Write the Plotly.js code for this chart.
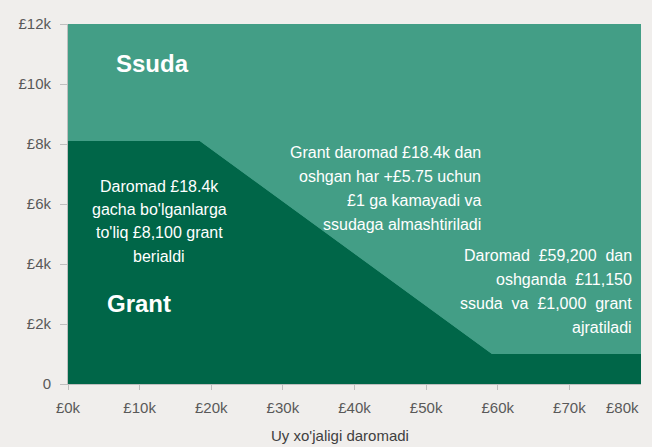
<!DOCTYPE html>
<html>
<head>
<meta charset="utf-8">
<script src="https://cdn.plot.ly/plotly-3.0.1.min.js"></script>
<style>html,body{margin:0;padding:0;background:#F0EEEC;}#chart{width:652px;height:447px;}</style>
</head>
<body>
<div id="chart"></div>
<script>
// Data
const income = [0, 18400, 59200, 82000];
const grant = [8100, 8100, 1000, 1000];
const loan = [4050, 4050, 11150, 11150];
const xTickVals = [0, 10000, 20000, 30000, 40000, 50000, 60000, 70000, 80000];
const xTickText = ['£0k', '£10k', '£20k', '£30k', '£40k', '£50k', '£60k', '£70k', '£80k'];
const yTickVals = [0, 2000, 4000, 6000, 8000, 10000, 12000];
const yTickText = ['0', '£2k', '£4k', '£6k', '£8k', '£10k', '£12k'];
const xTitle = "Uy xo'jaligi daromadi";
const labelLoan = 'Ssuda';
const labelGrant = 'Grant';
const note1 = ['Daromad £18.4k', "gacha bo'lganlarga", "to'liq £8,100 grant", 'berialdi'];
const note2 = ['Grant daromad £18.4k dan', 'oshgan har +£5.75 uchun', '£1 ga kamayadi va', 'ssudaga almashtiriladi'];
const note3 = ['Daromad\u00a0\u00a0£59,200\u00a0\u00a0dan', 'oshganda\u00a0\u00a0£11,150', 'ssuda\u00a0\u00a0va\u00a0\u00a0£1,000\u00a0\u00a0grant', 'ajratiladi'];

const dark = '#006648';
const teal = '#439E86';

const traces = [
  {x: income, y: grant, type: 'scatter', mode: 'lines', stackgroup: 'one', line: {width: 0, color: dark}, fillcolor: dark, hoverinfo: 'skip'},
  {x: income, y: loan, type: 'scatter', mode: 'lines', stackgroup: 'one', line: {width: 0, color: teal}, fillcolor: teal, hoverinfo: 'skip'}
];

const font = 'Liberation Sans, Arial, sans-serif';
const anns = [];
function addLines(lines, x, ys, xanchor) {
  lines.forEach((t, i) => anns.push({text: t, x: x, y: ys[i], xref: 'x', yref: 'y', showarrow: false,
    xanchor: xanchor, yanchor: 'middle', font: {family: font, size: 16, color: '#ffffff'}}));
}
addLines(note1, 12750, [6600, 5830, 5060, 4260], 'center');
addLines(note2, 57900, [7730, 6930, 6130, 5330], 'right');
addLines(note3, 79000, [4270, 3470, 2670, 1870], 'right');
anns.push({text: '<b>' + labelLoan + '</b>', x: 11750, y: 10700, xref: 'x', yref: 'y', showarrow: false,
  xanchor: 'center', yanchor: 'middle', font: {family: font, size: 24, color: '#ffffff'}});
anns.push({text: '<b>' + labelGrant + '</b>', x: 9900, y: 2700, xref: 'x', yref: 'y', showarrow: false,
  xanchor: 'center', yanchor: 'middle', font: {family: font, size: 24, color: '#ffffff'}});
// last x tick label shifted left to fit inside the figure, as in the reference
anns.push({text: xTickText[8], x: xTickVals[8], y: 0, xref: 'x', yref: 'paper', showarrow: false,
  xanchor: 'right', yanchor: 'top', yshift: -13, xshift: 0, font: {family: font, size: 15, color: '#595959'}});
// x-axis title (placed slightly left of centre, as in the reference)
anns.push({text: xTitle, x: 0.475, y: 0, xref: 'paper', yref: 'paper', showarrow: false,
  xanchor: 'center', yanchor: 'top', yshift: -41, font: {family: font, size: 15, color: '#404040'}});

const layout = {
  width: 652, height: 447,
  margin: {l: 68, r: 11, t: 24, b: 63},
  paper_bgcolor: '#F0EEEC', plot_bgcolor: teal,
  showlegend: false,
  xaxis: {range: [0, 80000], tickvals: xTickVals.slice(0, 8), ticktext: xTickText.slice(0, 8),
    showgrid: false, zeroline: false, showline: true, linecolor: '#BFBFBF', linewidth: 1,
    ticks: 'outside', ticklen: 5, tickcolor: '#BFBFBF', ticklabelstandoff: 5,
    tickfont: {family: font, size: 15, color: '#595959'}},
  yaxis: {range: [0, 12000], tickvals: yTickVals, ticktext: yTickText,
    showgrid: false, zeroline: false, showline: true, linecolor: '#BFBFBF', linewidth: 1,
    ticks: 'outside', ticklen: 7, tickcolor: '#BFBFBF', ticklabelstandoff: 6,
    tickfont: {family: font, size: 15, color: '#595959'}},
  annotations: anns
};
Plotly.newPlot('chart', traces, layout, {staticPlot: true, displayModeBar: false});
</script>
</body>
</html>
